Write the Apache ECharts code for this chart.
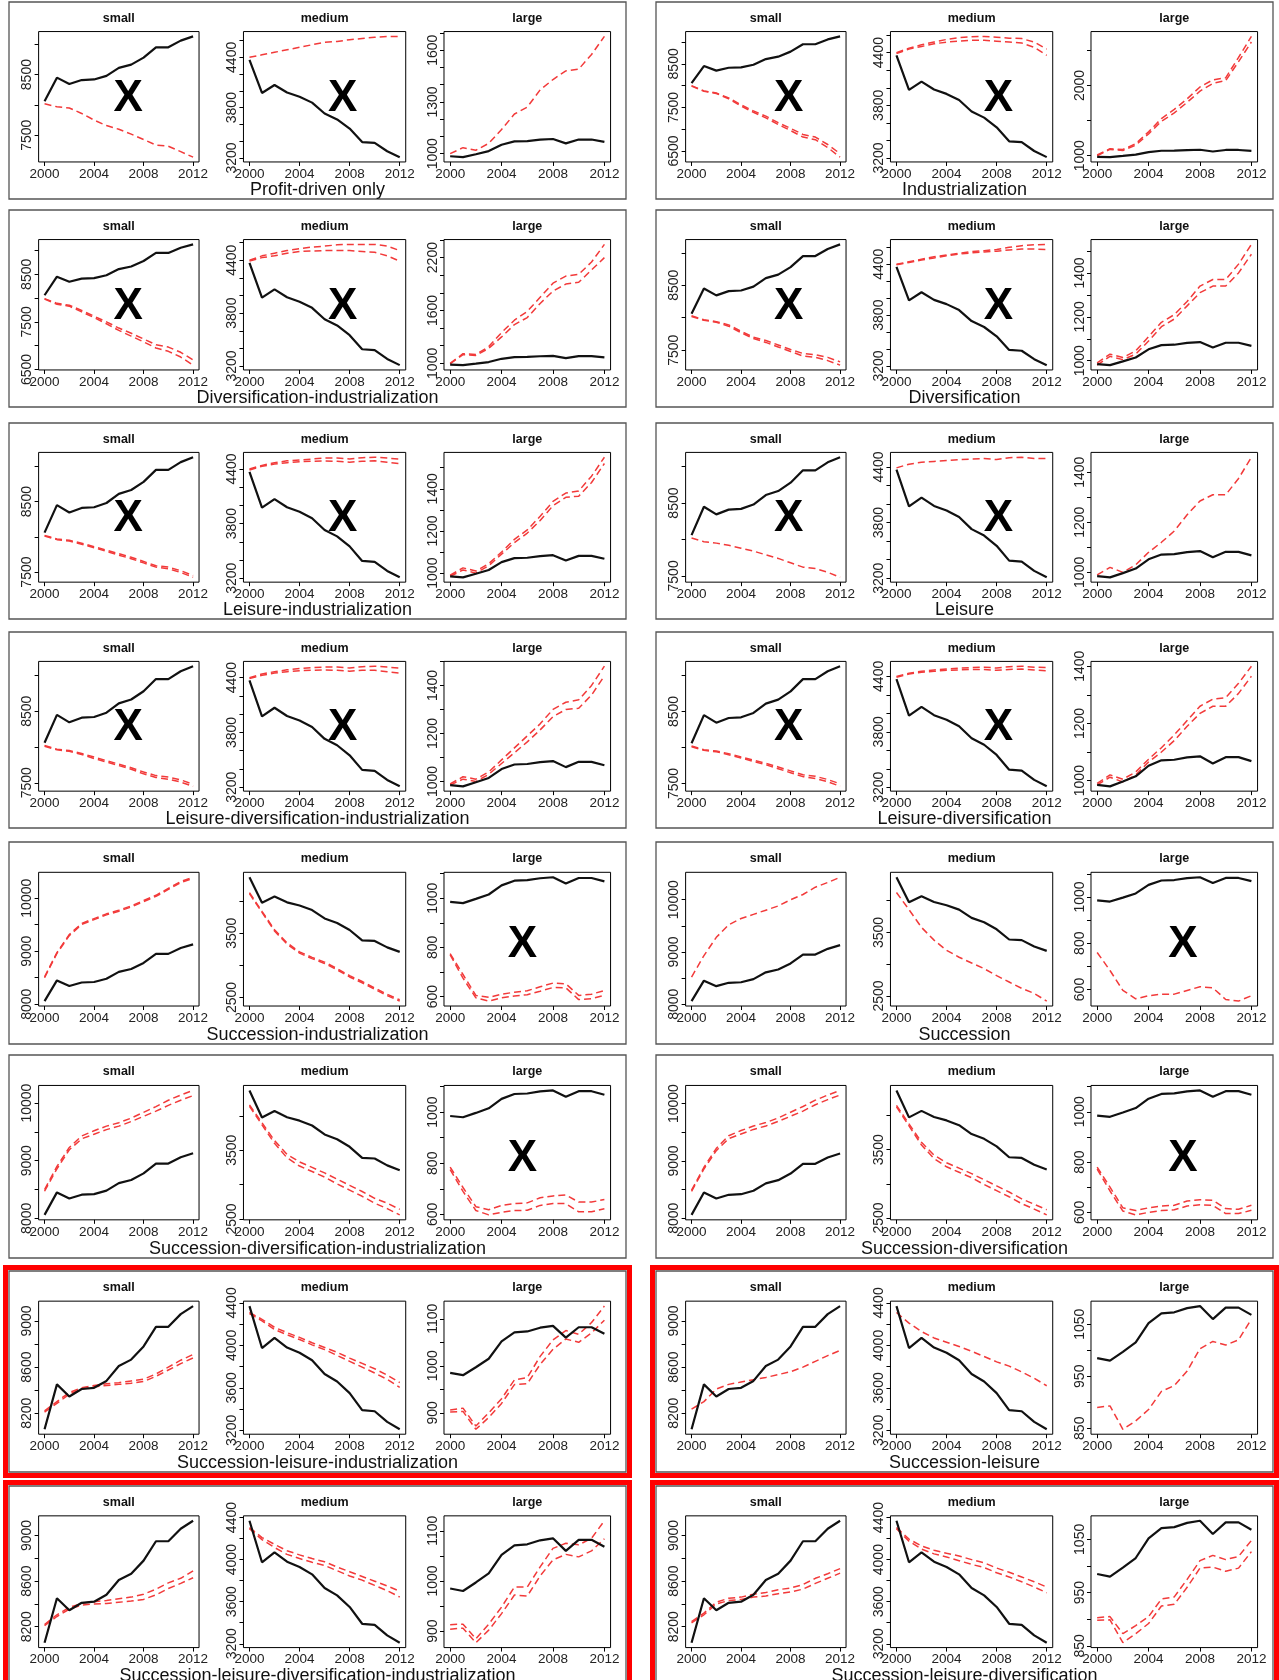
<!DOCTYPE html>
<html><head><meta charset="utf-8">
<script src="https://cdn.jsdelivr.net/npm/echarts@6/dist/echarts.min.js"></script>
<style>html,body{margin:0;padding:0;background:#fff;}#c{width:1279px;height:1680px;}</style>
</head><body><div id="c"></div>
<script>
// ---------------- DATA ----------------
const years = [2000,2001,2002,2003,2004,2005,2006,2007,2008,2009,2010,2011,2012];
const sizeNames = ['small','medium','large'];
// observed (black solid)
const obsSmall  = [8060, 8450, 8345, 8410, 8420, 8480, 8610, 8665, 8780, 8950, 8950, 9060, 9130];
const obsMedium = [4370, 3975, 4070, 3980, 3930, 3860, 3730, 3660, 3550, 3390, 3380, 3280, 3210];
const obsLarge  = [985, 980, 997, 1015, 1052, 1071, 1073, 1081, 1085, 1060, 1082, 1082, 1068];

const panelNames = [
  'Profit-driven only','Industrialization',
  'Diversification-industrialization','Diversification',
  'Leisure-industrialization','Leisure',
  'Leisure-diversification-industrialization','Leisure-diversification',
  'Succession-industrialization','Succession',
  'Succession-diversification-industrialization','Succession-diversification',
  'Succession-leisure-industrialization','Succession-leisure',
  'Succession-leisure-diversification-industrialization','Succession-leisure-diversification'
];
const crossedOut = [
  ['small','medium'],['small','medium'],['small','medium'],['small','medium'],
  ['small','medium'],['small','medium'],['small','medium'],['small','medium'],
  ['large'],['large'],['large'],['large'],
  [],[],[],[]
];
const highlighted = [false,false,false,false,false,false,false,false,false,false,false,false,true,true,true,true];

// simulated runs (red dashed), one or two per subplot
const p01Small  = [[8020,7970,7950,7860,7750,7660,7600,7520,7430,7340,7320,7230,7140]];
const p01Medium = [[4400,4430,4460,4490,4520,4550,4580,4590,4610,4625,4640,4650,4650]];
const p01Large  = [[1000,1035,1020,1060,1140,1230,1270,1370,1430,1480,1490,1575,1680]];

const p02Small  = [[8000,7880,7830,7720,7560,7420,7300,7150,7020,6880,6820,6650,6440],
                   [7990,7870,7820,7700,7530,7390,7260,7110,6970,6820,6760,6580,6360]];
const p02Medium = [[4400,4450,4490,4520,4550,4570,4580,4585,4575,4565,4560,4520,4440],
                   [4390,4440,4470,4500,4520,4530,4540,4540,4530,4520,4510,4460,4370]];
const p02Large  = [[1010,1100,1090,1170,1340,1530,1660,1810,1980,2080,2110,2400,2700],
                   [1000,1090,1075,1150,1310,1490,1610,1760,1920,2030,2070,2340,2620]];

const p03Small  = [[7990,7890,7850,7740,7620,7500,7370,7260,7140,7020,6970,6860,6700],
                   [7980,7870,7830,7710,7590,7460,7320,7200,7080,6950,6880,6760,6590]];
const p03Medium = [[4400,4450,4480,4510,4530,4550,4560,4575,4580,4580,4580,4560,4510],
                   [4390,4430,4450,4480,4500,4505,4510,4510,4510,4500,4490,4450,4390]];
const p03Large  = [[1000,1110,1100,1190,1350,1490,1590,1750,1910,1990,2010,2150,2350],
                   [995,1100,1090,1170,1300,1440,1520,1680,1820,1900,1920,2060,2200]];

const p04Small  = [[8030,7970,7940,7890,7790,7700,7650,7580,7510,7450,7430,7390,7320],
                   [8020,7960,7930,7870,7770,7680,7620,7550,7480,7410,7390,7340,7270]];
const p04Medium = [[4400,4430,4460,4490,4510,4530,4550,4560,4575,4600,4620,4630,4635],
                   [4395,4420,4450,4475,4500,4520,4535,4545,4555,4570,4580,4580,4575]];
const p04Large  = [[990,1030,1015,1045,1110,1175,1210,1270,1340,1370,1370,1440,1530],
                   [980,1020,1005,1030,1090,1155,1190,1250,1310,1340,1340,1400,1485]];

const p05Small  = [[8020,7970,7950,7910,7860,7810,7760,7710,7650,7590,7570,7520,7450],
                   [8010,7960,7940,7895,7845,7795,7740,7690,7630,7570,7545,7495,7425]];
const p05Medium = [[4400,4440,4470,4490,4500,4510,4520,4520,4510,4525,4530,4520,4510],
                   [4390,4430,4455,4470,4480,4485,4490,4485,4475,4485,4490,4475,4460]];
const p05Large  = [[990,1025,1010,1045,1100,1160,1205,1270,1340,1380,1390,1460,1550],
                   [985,1015,1000,1035,1090,1145,1190,1250,1320,1360,1365,1430,1520]];

const p06Small  = [[8020,7970,7950,7920,7880,7840,7790,7740,7680,7620,7600,7550,7480]];
const p06Medium = [[4390,4430,4450,4460,4470,4480,4485,4490,4480,4500,4505,4490,4490]];
const p06Large  = [[990,1020,1000,1030,1080,1120,1165,1230,1285,1310,1310,1375,1460]];

const p07Small  = [[8020,7970,7950,7910,7860,7810,7760,7710,7650,7600,7580,7540,7480],
                   [8010,7960,7940,7895,7840,7790,7740,7690,7625,7575,7550,7510,7450]];
const p07Medium = [[4400,4440,4465,4485,4500,4510,4515,4515,4505,4520,4525,4515,4505],
                   [4390,4425,4450,4465,4475,4480,4485,4480,4470,4480,4480,4465,4450]];
const p07Large  = [[990,1020,1010,1040,1090,1140,1190,1240,1300,1330,1340,1400,1480],
                   [985,1010,1000,1030,1075,1120,1165,1215,1270,1300,1305,1360,1440]];

const p08Small  = [[8020,7970,7950,7915,7870,7825,7780,7730,7675,7620,7600,7555,7495],
                   [8010,7960,7940,7900,7855,7805,7760,7705,7650,7595,7570,7525,7460]];
const p08Medium = [[4400,4435,4455,4470,4480,4490,4495,4500,4490,4505,4510,4500,4495],
                   [4390,4425,4445,4455,4465,4470,4475,4475,4465,4475,4480,4470,4460]];
const p08Large  = [[990,1020,1005,1030,1075,1115,1160,1210,1260,1285,1290,1340,1400],
                   [985,1012,995,1020,1065,1100,1140,1190,1235,1260,1260,1305,1365]];

const p09Small  = [[8515,8975,9315,9525,9615,9705,9775,9855,9955,10055,10185,10315,10395],
                   [8500,8960,9295,9505,9595,9685,9755,9835,9935,10035,10165,10295,10375]];
const p09Medium = [[4130,3840,3555,3350,3210,3125,3050,2950,2840,2750,2650,2550,2465],
                   [4115,3825,3535,3330,3190,3105,3030,2930,2820,2730,2630,2530,2445]];
const p09Large  = [[775,690,605,597,610,618,624,640,655,652,605,610,625],
                   [770,675,595,582,595,603,608,622,637,636,588,592,605]];

const p10Small  = [[8520,8930,9280,9520,9640,9720,9800,9880,10000,10100,10240,10330,10430]];
const p10Medium = [[4130,3860,3580,3380,3220,3110,3020,2930,2820,2720,2620,2540,2420]];
const p10Large  = [[760,682,596,560,573,580,580,596,612,607,557,550,573]];

const p11Small  = [[8500,8900,9230,9430,9520,9600,9660,9740,9840,9940,10050,10140,10220],
                   [8470,8860,9190,9380,9460,9540,9600,9680,9770,9860,9960,10050,10130]];
const p11Medium = [[4160,3900,3640,3440,3330,3250,3170,3080,2990,2900,2800,2730,2640],
                   [4140,3870,3600,3390,3270,3190,3110,3010,2920,2830,2730,2650,2560]];
const p11Large  = [[785,705,630,618,635,642,645,665,672,676,648,648,658],
                   [775,690,615,598,608,615,616,635,642,642,610,610,622]];

const p12Small  = [[8490,8890,9220,9440,9530,9610,9670,9750,9850,9950,10060,10150,10230],
                   [8470,8860,9180,9390,9470,9550,9610,9690,9780,9870,9980,10070,10150]];
const p12Medium = [[4150,3880,3610,3420,3310,3230,3150,3060,2970,2880,2780,2700,2620],
                   [4130,3850,3570,3370,3250,3170,3090,2990,2900,2810,2710,2630,2545]];
const p12Large  = [[780,700,618,607,618,625,628,645,650,648,615,612,628],
                   [772,685,605,590,600,607,610,625,630,628,595,595,608]];

const p13Small  = [[8220,8300,8380,8420,8440,8455,8465,8480,8495,8540,8600,8660,8710],
                   [8210,8285,8365,8410,8430,8440,8450,8460,8475,8520,8575,8630,8680]];
const p13Medium = [[4310,4245,4170,4120,4075,4025,3980,3935,3880,3830,3780,3720,3650],
                   [4300,4230,4150,4100,4055,4005,3960,3905,3850,3795,3740,3680,3605]];
const p13Large  = [[906,910,872,900,930,970,975,1020,1055,1075,1067,1092,1127],
                   [902,903,865,890,920,960,962,1003,1035,1057,1050,1070,1097]];

const p14Small  = [[8235,8300,8410,8450,8470,8490,8510,8535,8560,8600,8650,8700,8745]];
const p14Medium = [[4310,4210,4130,4070,4030,3990,3945,3895,3845,3805,3750,3690,3620]];
const p14Large  = [[890,893,848,864,886,921,932,960,1003,1017,1010,1020,1060]];

const p15Small  = [[8220,8305,8370,8405,8420,8430,8445,8460,8485,8530,8585,8625,8690],
                   [8210,8290,8355,8390,8400,8405,8415,8425,8440,8480,8535,8580,8630]];
const p15Medium = [[4305,4210,4145,4085,4045,4010,3980,3930,3885,3840,3795,3750,3700],
                   [4295,4190,4115,4050,4010,3975,3945,3895,3845,3805,3755,3705,3645]];
const p15Large  = [[913,914,885,914,948,988,988,1028,1065,1075,1072,1085,1120],
                   [904,906,877,902,935,972,970,1010,1042,1053,1048,1060,1084]];

const p16Small  = [[8245,8320,8415,8450,8460,8485,8500,8525,8540,8570,8625,8665,8710],
                   [8235,8305,8400,8430,8440,8460,8470,8490,8505,8530,8580,8625,8670]];
const p16Medium = [[4305,4195,4130,4090,4060,4035,4000,3970,3920,3880,3835,3790,3740],
                   [4295,4175,4100,4055,4025,3990,3955,3925,3875,3835,3790,3740,3685]];
const p16Large  = [[903,905,873,888,905,938,942,975,1010,1020,1012,1018,1048],
                   [898,899,856,873,892,925,928,960,996,998,990,996,1027]];

// tick marks and labelled ticks (y axes)
const yTicksSmall = [
  [7500,8000,8500,9000],[6500,7000,7500,8000,8500,9000],[6500,7000,7500,8000,8500,9000],[7500,8000,8500,9000],
  [7500,8000,8500,9000],[7500,8000,8500,9000],[7500,8000,8500,9000],[7500,8000,8500,9000],
  [8000,8500,9000,9500,10000],[8000,8500,9000,9500,10000],[8000,8500,9000,9500,10000],[8000,8500,9000,9500,10000],
  [8200,8400,8600,8800,9000],[8200,8400,8600,8800,9000],[8200,8400,8600,8800,9000],[8200,8400,8600,8800,9000]
];
const yLabelsSmall = [
  [7500,8500],[6500,7500,8500],[6500,7500,8500],[7500,8500],
  [7500,8500],[7500,8500],[7500,8500],[7500,8500],
  [8000,9000,10000],[8000,9000,10000],[8000,9000,10000],[8000,9000,10000],
  [8200,8600,9000],[8200,8600,9000],[8200,8600,9000],[8200,8600,9000]
];
const yTicksMedium = [
  [3200,3400,3600,3800,4000,4200,4400,4600],[3200,3400,3600,3800,4000,4200,4400,4600],
  [3200,3400,3600,3800,4000,4200,4400,4600],[3200,3400,3600,3800,4000,4200,4400,4600],
  [3200,3400,3600,3800,4000,4200,4400,4600],[3200,3400,3600,3800,4000,4200,4400,4600],
  [3200,3400,3600,3800,4000,4200,4400,4600],[3200,3400,3600,3800,4000,4200,4400,4600],
  [2500,3000,3500,4000],[2500,3000,3500,4000],[2500,3000,3500,4000],[2500,3000,3500,4000],
  [3200,3400,3600,3800,4000,4200,4400],[3200,3400,3600,3800,4000,4200,4400],
  [3200,3400,3600,3800,4000,4200,4400],[3200,3400,3600,3800,4000,4200,4400]
];
const yLabelsMedium = [
  [3200,3800,4400],[3200,3800,4400],[3200,3800,4400],[3200,3800,4400],
  [3200,3800,4400],[3200,3800,4400],[3200,3800,4400],[3200,3800,4400],
  [2500,3500],[2500,3500],[2500,3500],[2500,3500],
  [3200,3600,4000,4400],[3200,3600,4000,4400],[3200,3600,4000,4400],[3200,3600,4000,4400]
];
const yTicksLarge = [
  [1000,1100,1200,1300,1400,1500,1600,1700],[1000,1500,2000,2500],
  [1000,1200,1400,1600,1800,2000,2200,2400],[1000,1100,1200,1300,1400,1500],
  [1000,1100,1200,1300,1400,1500],[1000,1100,1200,1300,1400],
  [1000,1100,1200,1300,1400,1500],[1000,1100,1200,1300,1400],
  [600,700,800,900,1000,1100],[600,700,800,900,1000,1100],[600,700,800,900,1000,1100],[600,700,800,900,1000,1100],
  [900,950,1000,1050,1100],[850,900,950,1000,1050],[900,950,1000,1050,1100],[850,900,950,1000,1050]
];
const yLabelsLarge = [
  [1000,1300,1600],[1000,2000],[1000,1600,2200],[1000,1200,1400],
  [1000,1200,1400],[1000,1200,1400],[1000,1200,1400],[1000,1200,1400],
  [600,800,1000],[600,800,1000],[600,800,1000],[600,800,1000],
  [900,1000,1100],[850,950,1050],[900,1000,1100],[850,950,1050]
];
const xTicks = [2000,2004,2008,2012];

// ---------------- LAYOUT ----------------
const colLeft = [9, 656];
const panelW = 617;
const rowTop = [2, 210, 423, 632, 842, 1055, 1271, 1486];
const rowH   = [197, 197, 196, 196, 202, 203, 201, 199];
const boxFracX = [[0.048, 0.308], [0.38, 0.643], [0.705, 0.975]];
const boxTopF = 0.15, boxBotF = 0.812, titleF = 0.083, nameF = 0.955;
const xMarkPos = { // panel-relative fractions [left col, right col]
  small:  [[0.193, 0.49], [0.215, 0.49]],
  medium: [[0.541, 0.49], [0.555, 0.49]],
  large:  [[0.832, 0.51], [0.854, 0.51]]
};
const FONT = '"Liberation Sans", Arial, sans-serif';

const sims = [
  [p01Small,p01Medium,p01Large],[p02Small,p02Medium,p02Large],[p03Small,p03Medium,p03Large],[p04Small,p04Medium,p04Large],
  [p05Small,p05Medium,p05Large],[p06Small,p06Medium,p06Large],[p07Small,p07Medium,p07Large],[p08Small,p08Medium,p08Large],
  [p09Small,p09Medium,p09Large],[p10Small,p10Medium,p10Large],[p11Small,p11Medium,p11Large],[p12Small,p12Medium,p12Large],
  [p13Small,p13Medium,p13Large],[p14Small,p14Medium,p14Large],[p15Small,p15Medium,p15Large],[p16Small,p16Medium,p16Large]
];
const observed = [obsSmall, obsMedium, obsLarge];
const yTicks = [yTicksSmall, yTicksMedium, yTicksLarge];
const yLabels = [yLabelsSmall, yLabelsMedium, yLabelsLarge];

const grids = [], xAxes = [], yAxes = [], series = [], graphics = [];
const txt = (x, y, text, font, color) => ({
  type: 'text', x: x, y: y, silent: true, z: 20,
  style: { text: text, font: font, fill: color || '#111', align: 'center', verticalAlign: 'middle',
           textAlign: 'center', textVerticalAlign: 'middle' }
});

for (let p = 0; p < 16; p++) {
  const r = Math.floor(p / 2), c = p % 2;
  const px = colLeft[c], py = rowTop[r], ph = rowH[r];
  if (highlighted[p]) {
    graphics.push({ type: 'rect', silent: true, z: 21,
      shape: { x: px - 3.5, y: py - 3.5, width: panelW + 7, height: ph + 7 },
      style: { fill: 'none', stroke: '#ff0000', lineWidth: 5 } });
  }
  graphics.push({ type: 'rect', silent: true, z: 20,
    shape: { x: px, y: py, width: panelW, height: ph },
    style: { fill: 'none', stroke: '#555', lineWidth: 1.3 } });
  graphics.push(txt(px + panelW / 2, py + nameF * ph, panelNames[p], '18px ' + FONT, '#111'));

  for (let s = 0; s < 3; s++) {
    const gi = p * 3 + s;
    const gl = px + boxFracX[s][0] * panelW;
    const gw = (boxFracX[s][1] - boxFracX[s][0]) * panelW;
    const gt = py + boxTopF * ph;
    const gh = (boxBotF - boxTopF) * ph;
    grids.push({ left: gl, top: gt, width: gw, height: gh, show: true,
      borderColor: '#000', borderWidth: 1, backgroundColor: 'transparent', containLabel: false });

    const obs = observed[s];
    const runs = sims[p][s];
    const all = obs.concat(...runs);
    const lo = Math.min(...all), hi = Math.max(...all);
    const pad = (hi - lo) * 0.04;
    const ymin = lo - pad, ymax = hi + pad;
    const tks = yTicks[s][p].filter(v => v >= ymin && v <= ymax);
    const lbs = yLabels[s][p].filter(v => v >= ymin && v <= ymax);

    xAxes.push({ type: 'value', gridIndex: gi, min: 1999.52, max: 2012.48,
      axisLine: { show: false, onZero: false }, splitLine: { show: false },
      axisTick: { show: true, customValues: xTicks, length: 4, inside: false, lineStyle: { color: '#000', width: 1 } },
      axisLabel: { customValues: xTicks, margin: 5, fontSize: 13.5, fontFamily: FONT, color: '#222',
                   formatter: v => String(v) } });
    yAxes.push({ type: 'value', gridIndex: gi, min: ymin, max: ymax,
      axisLine: { show: false, onZero: false }, splitLine: { show: false },
      axisTick: { show: true, customValues: tks, length: 4, inside: false, lineStyle: { color: '#000', width: 1 } },
      axisLabel: { customValues: lbs, rotate: 90, margin: 4, fontSize: 14, fontFamily: FONT, color: '#222',
                   formatter: v => String(v) } });

    runs.forEach(run => {
      series.push({ type: 'line', xAxisIndex: gi, yAxisIndex: gi, showSymbol: false, silent: true,
        data: years.map((yr, i) => [yr, run[i]]), z: 2,
        lineStyle: { color: '#f23a3a', width: 1.5, type: [7, 4] } });
    });
    series.push({ type: 'line', xAxisIndex: gi, yAxisIndex: gi, showSymbol: false, silent: true,
      data: years.map((yr, i) => [yr, obs[i]]), z: 3,
      lineStyle: { color: '#111', width: 2.2, type: 'solid' } });

    graphics.push(txt(gl + gw / 2, py + titleF * ph, sizeNames[s], 'bold 12.5px ' + FONT, '#111'));

    if (crossedOut[p].includes(sizeNames[s])) {
      const f = xMarkPos[sizeNames[s]][c];
      graphics.push(txt(px + f[0] * panelW, py + f[1] * ph, 'X', 'bold 44px ' + FONT, '#000'));
    }
  }
}

const chart = echarts.init(document.getElementById('c'), null, { renderer: 'canvas', width: 1279, height: 1680 });
chart.setOption({
  animation: false,
  backgroundColor: '#fff',
  grid: grids, xAxis: xAxes, yAxis: yAxes, series: series,
  graphic: { elements: graphics }
});
</script>
</body></html>
